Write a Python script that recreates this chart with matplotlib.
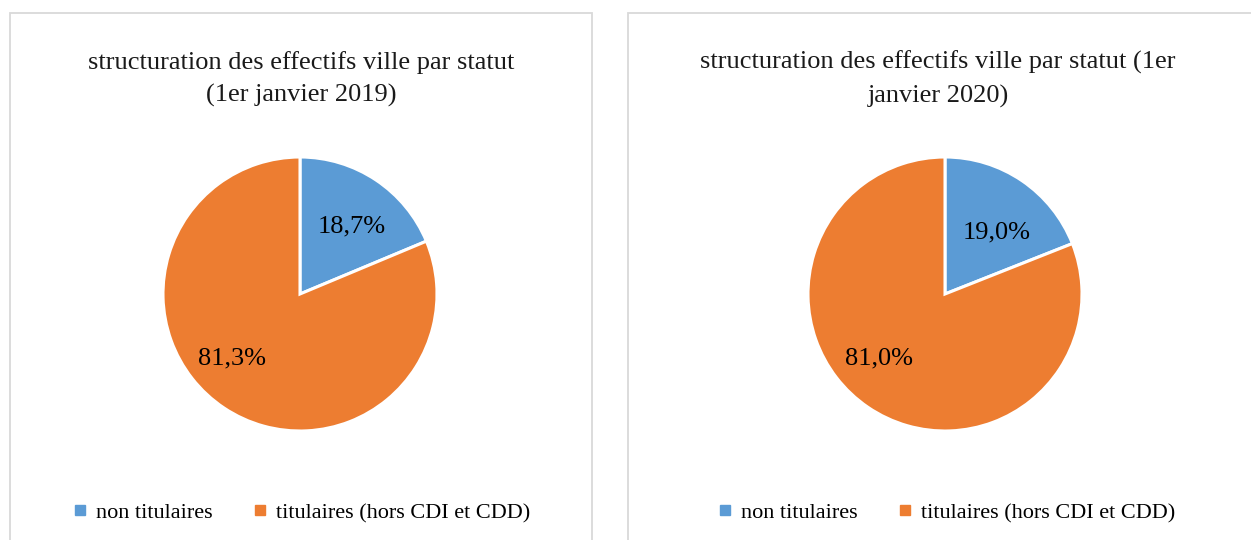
import matplotlib.pyplot as plt
from matplotlib.patches import Rectangle
from matplotlib.lines import Line2D

categories = ['non titulaires', 'titulaires (hors CDI et CDD)']
values_2019 = [18.7, 81.3]
values_2020 = [19.0, 81.0]
titles = ['structuration des effectifs ville par statut\n(1er janvier 2019)',
          'structuration des effectifs ville par statut (1er\njanvier 2020)']
colors = ['#5B9BD5', '#ED7D31']

W, H = 1251, 540
fig = plt.figure(figsize=(W / 100, H / 100), dpi=100)
plt.rcParams['font.family'] = ['Liberation Serif', 'DejaVu Serif']

def px(x0, y0, w, h):
    # pixel box (top-left origin) -> figure fraction
    return [x0 / W, 1 - (y0 + h) / H, w / W, h / H]

# panel frames
for x0, x1 in [(10, 592), (628, 1260)]:
    fig.patches.append(Rectangle((x0 / W, -0.05), (x1 - x0) / W, (H - 13) / H + 0.05,
                                 transform=fig.transFigure, fill=False,
                                 edgecolor='#d9d9d9', linewidth=1.3))

label_pos = [[(0.38, 0.49), (-0.5, -0.47)], [(0.375, 0.45), (-0.48, -0.47)]]
centers = [300, 945]
for i, (vals, title, cx) in enumerate(zip([values_2019, values_2020], titles, centers)):
    r = 137
    ax = fig.add_axes(px(cx - r, 294 - r, 2 * r, 2 * r))
    ax.pie(vals, colors=colors, startangle=90, counterclock=False,
           wedgeprops=dict(edgecolor='white', linewidth=2.2), radius=1.0)
    ax.set_xlim(-1, 1)
    ax.set_ylim(-1, 1)
    ax.set_aspect('equal')
    ax.axis('off')
    for v, (lx, ly) in zip(vals, label_pos[i]):
        ax.text(lx, ly, f'{v:.1f}%'.replace('.', ','), ha='center', va='center',
                fontsize=19, color='black')
    tx = cx + 1 if i == 0 else 938
    fig.text(tx / W, 1 - 79 / H, title, ha='center', va='center', fontsize=19,
             linespacing=1.6, color='#1a1a1a')
    handles = [Line2D([], [], marker='s', linestyle='none', markersize=7,
                      markerfacecolor=c, markeredgecolor=c) for c in colors]
    fig.legend(handles, categories, loc='center', bbox_to_anchor=((cx + 1) / W, 1 - 513 / H),
               ncol=2, frameon=False, fontsize=16, handletextpad=0.35,
               columnspacing=1.8, handlelength=0.7)

fig.savefig('out.png', dpi=100, facecolor='white')
